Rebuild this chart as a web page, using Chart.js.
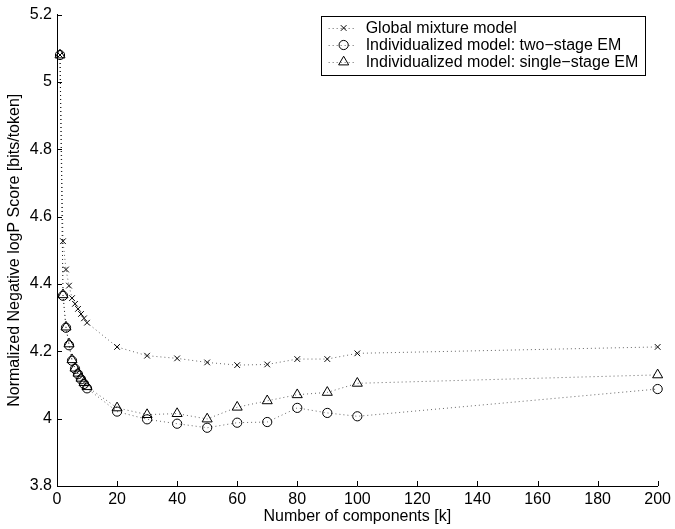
<!DOCTYPE html>
<html>
<head>
<meta charset="utf-8">
<script src="https://cdn.jsdelivr.net/npm/chart.js@4.4.1/dist/chart.umd.min.js"></script>
<style>
    html, body { margin: 0; padding: 0; background: #fff; }
    #chart-container { width: 675px; height: 529px; }
</style>
</head>
<body>
<div id="chart-container"><canvas id="myChart" width="675" height="529"></canvas></div>
<script>
// number of components k
var components = [1, 2, 3, 4, 5, 6, 7, 8, 9, 10, 20, 30, 40, 50, 60, 70, 80, 90, 100, 200];

// normalized negative logP score per model
var globalModel   = [5.08, 4.527, 4.443, 4.395, 4.358, 4.341, 4.326, 4.311, 4.298, 4.285, 4.213, 4.187, 4.179, 4.167, 4.159, 4.161, 4.177, 4.177, 4.194, 4.213];
var twoStageEM    = [5.08, 4.365, 4.270, 4.218, 4.172, 4.148, 4.132, 4.117, 4.103, 4.090, 4.021, 3.998, 3.985, 3.973, 3.988, 3.990, 4.032, 4.017, 4.007, 4.088];
var singleStageEM = [5.08, 4.368, 4.272, 4.222, 4.175, 4.150, 4.135, 4.120, 4.107, 4.095, 4.032, 4.012, 4.015, 3.999, 4.034, 4.053, 4.071, 4.078, 4.105, 4.130];

var seriesLabels = ['Global mixture model', 'Individualized model: two\u2212stage EM', 'Individualized model: single\u2212stage EM'];
var seriesMarkers = ['crossRot', 'circle', 'triangle'];

var xTickValues = [0, 20, 40, 60, 80, 100, 120, 140, 160, 180, 200];
var yTickValues = [3.8, 4, 4.2, 4.4, 4.6, 4.8, 5, 5.2];
var yTickLabels = ['3.8', '4', '4.2', '4.4', '4.6', '4.8', '5', '5.2'];

var markerRadius = { crossRot: 4, circle: 4.6, triangle: 5.8 };
var dotColor = 'rgba(0,0,0,0.6)';

function makeSeries(values){
    return components.map(function(k, i){
        return { x: k, y: values[i] };
    });
}

function makeDataset(label, values, marker){
    return {
        label: label,
        data: makeSeries(values),
        borderColor: dotColor,
        borderWidth: 1,
        borderDash: [1, 3],
        tension: 0,
        fill: false,
        clip: false,
        pointStyle: marker,
        pointRadius: markerRadius[marker],
        pointBorderColor: '#000',
        pointBackgroundColor: 'rgba(0,0,0,0)',
        pointBorderWidth: 1
    };
}

// inward tick marks + boxed legend inside the axes
var matlabAxes = {
    id: 'matlabAxes',
    afterDatasetsDraw: function(chart){
        var ctx = chart.ctx;
        var area = chart.chartArea;
        var xs = chart.scales.x, ys = chart.scales.y;
        ctx.save();
        ctx.strokeStyle = '#000';
        ctx.lineWidth = 1;
        ctx.setLineDash([]);
        ctx.beginPath();
        xTickValues.forEach(function(v){
            var px = Math.round(xs.getPixelForValue(v)) + 0.5;
            ctx.moveTo(px, area.bottom);
            ctx.lineTo(px, area.bottom - 5);
        });
        yTickValues.forEach(function(v){
            var py = Math.round(ys.getPixelForValue(v)) + 0.5;
            ctx.moveTo(area.left, py);
            ctx.lineTo(area.left + 5, py);
        });
        ctx.stroke();

        // legend
        var boxRight = area.right - 13, boxTop = 16, boxW = 324, boxH = 59;
        var boxLeft = boxRight - boxW;
        ctx.fillStyle = '#fff';
        ctx.fillRect(boxLeft, boxTop, boxW, boxH);
        ctx.strokeRect(Math.round(boxLeft) + 0.5, boxTop + 0.5, boxW, boxH);

        ctx.font = "16px 'Liberation Sans', Arial, sans-serif";
        ctx.textBaseline = 'middle';
        ctx.textAlign = 'left';
        chart.data.datasets.forEach(function(ds, i){
            var rowY = boxTop + 12 + i * 17;
            var lx = boxLeft + 8;
            ctx.strokeStyle = dotColor;
            ctx.setLineDash([1, 3]);
            ctx.beginPath();
            ctx.moveTo(lx, rowY + 0.5);
            ctx.lineTo(lx + 28, rowY + 0.5);
            ctx.stroke();
            ctx.setLineDash([]);
            ctx.strokeStyle = '#000';
            ctx.fillStyle = 'rgba(0,0,0,0)';
            Chart.helpers.drawPoint(ctx, {
                pointStyle: ds.pointStyle,
                radius: ds.pointRadius,
                rotation: 0,
                borderWidth: 1
            }, lx + 15, rowY);
            ctx.fillStyle = '#000';
            ctx.fillText(ds.label, boxLeft + 45, rowY + 1);
        });
        ctx.restore();
    }
};

Chart.defaults.font.family = "'Liberation Sans', Arial, sans-serif";
Chart.defaults.font.size = 16;
Chart.defaults.color = '#000';

var ctx = document.getElementById('myChart').getContext('2d');
var myChart = new Chart(ctx, {
    type: 'line',
    data: {
        datasets: [
            makeDataset(seriesLabels[0], globalModel, seriesMarkers[0]),
            makeDataset(seriesLabels[1], twoStageEM, seriesMarkers[1]),
            makeDataset(seriesLabels[2], singleStageEM, seriesMarkers[2])
        ]
    },
    options: {
        responsive: false,
        animation: false,
        events: [],
        layout: { padding: { top: 9.5, right: 14, left: 0, bottom: 0 } },
        plugins: {
            legend: { display: false },
            tooltip: { enabled: false }
        },
        scales: {
            x: {
                type: 'linear',
                min: 0,
                max: 200,
                afterBuildTicks: function(scale){
                    scale.ticks = xTickValues.map(function(v){ return { value: v }; });
                },
                afterFit: function(scale){ scale.height = 43; },
                ticks: {
                    padding: 4,
                    maxRotation: 0,
                    autoSkip: false,
                    callback: function(value){ return String(value); }
                },
                grid: { drawOnChartArea: false, drawTicks: false },
                border: { display: true, color: '#000', width: 1 },
                title: {
                    display: true,
                    text: 'Number of components [k]',
                    padding: { top: 0, bottom: 3 }
                }
            },
            y: {
                type: 'linear',
                min: 3.8,
                max: 5.2,
                afterBuildTicks: function(scale){
                    scale.ticks = yTickValues.map(function(v){ return { value: v }; });
                },
                afterFit: function(scale){ scale.width = 57; },
                ticks: {
                    padding: 5,
                    autoSkip: false,
                    callback: function(value){
                        var i = yTickValues.indexOf(value);
                        return i >= 0 ? yTickLabels[i] : '';
                    }
                },
                grid: { drawOnChartArea: false, drawTicks: false },
                border: { display: true, color: '#000', width: 1 },
                title: {
                    display: true,
                    text: 'Normalized Negative logP Score [bits/token]',
                    padding: { top: 5, bottom: 0 }
                }
            }
        }
    },
    plugins: [matlabAxes]
});
</script>
</body>
</html>
